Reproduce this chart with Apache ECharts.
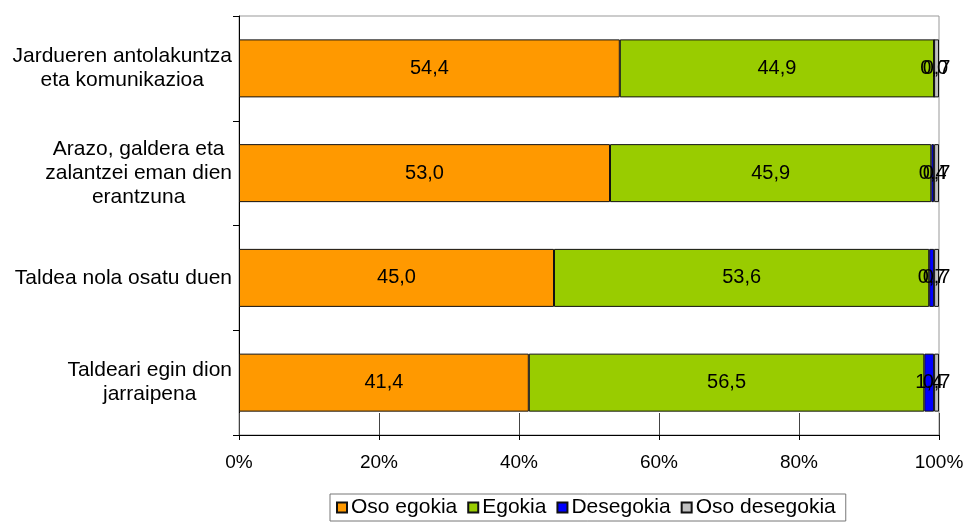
<!DOCTYPE html>
<html>
<head>
<meta charset="utf-8">
<script src="https://cdn.jsdelivr.net/npm/echarts@6/dist/echarts.min.js"></script>
<style>html,body{margin:0;padding:0;background:#fff}#c{width:968px;height:522px}</style>
</head>
<body>
<div id="c"></div>
<script>
const categories = [
  "Jardueren antolakuntza\neta komunikazioa",
  "Arazo, galdera eta\nzalantzei eman dien\nerantzuna",
  "Taldea nola osatu duen",
  "Taldeari egin dion\njarraipena"
];
const seriesNames = ["Oso egokia", "Egokia", "Desegokia", "Oso desegokia"];
const osoEgokia = [54.4, 53.0, 45.0, 41.4];
const egokia = [44.9, 45.9, 53.6, 56.5];
const desegokia = [0.0, 0.4, 0.7, 1.4];
const osoDesegokia = [0.7, 0.7, 0.7, 0.7];
const xTicks = [0, 20, 40, 60, 80, 100];
const colors = ["#FF9900", "#99CC00", "#0000FF", "#C0C0C0"];

const FONT = "Liberation Sans, Arial, sans-serif";
const values = [osoEgokia, egokia, desegokia, osoDesegokia];

const chart = echarts.init(document.getElementById('c'));
chart.setOption({
  animation: false,
  textStyle: { fontFamily: FONT },
  grid: { left: 239, right: 29, top: 16, bottom: 87, show: true, borderColor: '#999', borderWidth: 1 },
  legend: {
    left: 330, bottom: 1,
    padding: [3, 10, 3, 6],
    borderColor: '#777', borderWidth: 1,
    itemWidth: 10, itemHeight: 10, itemGap: 10,
    icon: 'rect',
    textStyle: { fontFamily: FONT, fontSize: 21, color: '#000', padding: [0, 0, 0, -1] },
    data: seriesNames
  },
  xAxis: [{
    type: 'value', min: xTicks[0], max: xTicks[xTicks.length - 1], interval: 20,
    axisLine: { show: true, lineStyle: { color: '#000', width: 1 } },
    axisTick: { show: true, length: 5, lineStyle: { color: '#000' } },
    splitLine: { show: false },
    axisLabel: { formatter: '{value}%', fontSize: 19, color: '#000', margin: 18, fontFamily: FONT }
  }, {
    type: 'value', min: xTicks[0], max: xTicks[xTicks.length - 1], interval: 20, position: 'bottom',
    axisLine: { show: false },
    axisTick: { show: true, inside: true, length: 22, lineStyle: { color: '#444' } },
    splitLine: { show: false },
    axisLabel: { show: false }
  }],
  yAxis: {
    type: 'category', data: categories, inverse: true,
    axisLine: { show: true, lineStyle: { color: '#000', width: 1 } },
    axisTick: { show: true, length: 6, lineStyle: { color: '#000' } },
    axisLabel: {
      margin: 7, color: '#000', fontSize: 21, fontFamily: FONT, lineHeight: 24,
      formatter: function (v) {
        return v.split('\n').map(function (l) { return '{c|' + l + '}'; }).join('\n');
      },
      rich: { c: { align: 'center', fontSize: 21, lineHeight: 24, fontFamily: FONT, color: '#000' } }
    }
  },
  series: seriesNames.map(function (name, i) {
    return {
      name: name, type: 'bar', stack: 'total', barWidth: 58,
      data: values[i],
      itemStyle: { color: colors[i], borderColor: '#111', borderWidth: 1 },
      label: {
        show: true, position: 'inside', color: '#000', fontSize: 20, fontFamily: FONT,
        formatter: function (p) { return p.value.toFixed(1).replace('.', ','); }
      }
    };
  })
});
</script>
</body>
</html>
